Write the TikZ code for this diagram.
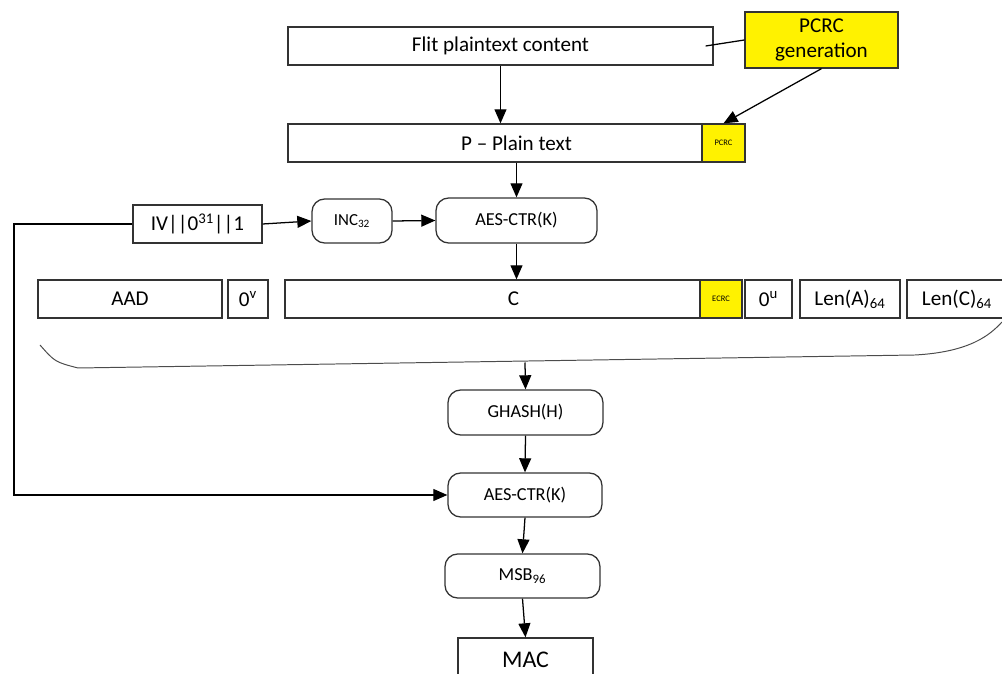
\documentclass[tikz,border=0pt]{standalone}
\usepackage{fontspec}
\setmainfont{Carlito}
\usetikzlibrary{arrows.meta}

\tikzset{
  >={Triangle[length=10pt,width=8.5pt]},
  box/.style={draw=black!80, line width=0.9pt, minimum height=38*0.025cm, inner sep=0pt,
    font=\fontsize{15}{17}\selectfont},
  round/.style={box, rounded corners=9pt, minimum height=44*0.025cm,
    font=\fontsize{13}{15}\selectfont},
  crc/.style={box, fill=yellow, font=\fontsize{6}{7}\selectfont}
}

\begin{document}
\begin{tikzpicture}[x=0.025cm, y=-0.025cm, line width=0.9pt]
    \useasboundingbox (0,0) rectangle (1002,674);
    \clip (0,0) rectangle (1002,674);

    % Plaintext and PCRC
    \node[box, minimum width=425*0.025cm] (flit) at (500.5,46) {Flit plaintext content};
    \node[box, fill=yellow, minimum width=153*0.025cm, minimum height=56*0.025cm, align=center,
      font=\fontsize{15}{18}\selectfont] (pcrcgen) at (821.5,40) {PCRC\\generation};
    \node[box, minimum width=457*0.025cm] (ptext) at (516.5,143) {P -- Plain text};
    \node[crc, minimum width=43*0.025cm] (pcrc) at (723.5,143) {PCRC};

    % Counter and encryption
    \node[box, minimum width=129*0.025cm] (iv) at (197.5,224) {IV||0\textsuperscript{31}||1};
    \node[round, minimum width=80*0.025cm, font=\fontsize{12}{14}\selectfont] (inc) at (352,221) {INC\textsubscript{32}};
    \node[round, minimum width=161*0.025cm, minimum height=45*0.025cm] (aesa) at (516.5,220.5) {AES-CTR(K)};

    % GHASH input blocks
    \node[box, minimum width=184*0.025cm] (aad) at (130,299) {AAD};
    \node[box, minimum width=40*0.025cm] (zerov) at (248,299) {0\textsuperscript{v}};
    \node[box, minimum width=457*0.025cm] (ctext) at (513.5,299) {C};
    \node[crc, minimum width=42*0.025cm] (ecrc) at (721,299) {ECRC};
    \node[box, minimum width=47*0.025cm] (zerou) at (768.5,299) {0\textsuperscript{u}};
    \node[box, minimum width=100*0.025cm] (lena) at (850,299) {Len(A)\textsubscript{64}};
    \node[box, minimum width=100*0.025cm] (lenc) at (957,299) {Len(C)\textsubscript{64}};

    % Brace under the blocks
    \draw[black!70, line width=0.7pt] (40,345) .. controls (55,362) .. (78,368) -- (915,355)
      .. controls (970,352) and (990,335) .. (1002,322);
    \coordinate (bracemid) at (525,362.5);

    % Tag computation
    \node[round, minimum width=155*0.025cm, minimum height=45*0.025cm] (ghash) at (525.5,412.5) {GHASH(H)};
    \node[round, minimum width=154*0.025cm] (aesb) at (525,495) {AES-CTR(K)};
    \node[round, minimum width=155*0.025cm] (msb) at (522.5,576) {MSB\textsubscript{96}};
    \node[box, minimum width=135*0.025cm, minimum height=44*0.025cm, font=\fontsize{17}{19}\selectfont] (mac) at (525.5,660) {MAC};

    % Connectors
    \draw[->] (flit.south) -- (ptext.north -| flit.south);
    \draw (pcrcgen.west) -- ([xshift=-0.2cm]flit.east);
    \draw[->] (pcrcgen.south) -- (pcrc.north);
    \draw[->] (ptext.south) -- (aesa.north);
    \draw[->] (iv.east) -- (inc.west);
    \draw[->] (inc.east) -- (aesa.west);
    \coordinate (turn) at (14,224);
    \draw[->] (iv.west) -- (turn) |- (aesb.west);
    \draw[->] (aesa.south) -- (aesa.south |- ctext.north);
    \draw[->] (bracemid) -- (ghash.north);
    \draw[->] (ghash.south) -- (aesb.north);
    \draw[->] (aesb.south) -- (msb.north);
    \draw[->] (msb.south) -- (mac.north);
\end{tikzpicture}
\end{document}
